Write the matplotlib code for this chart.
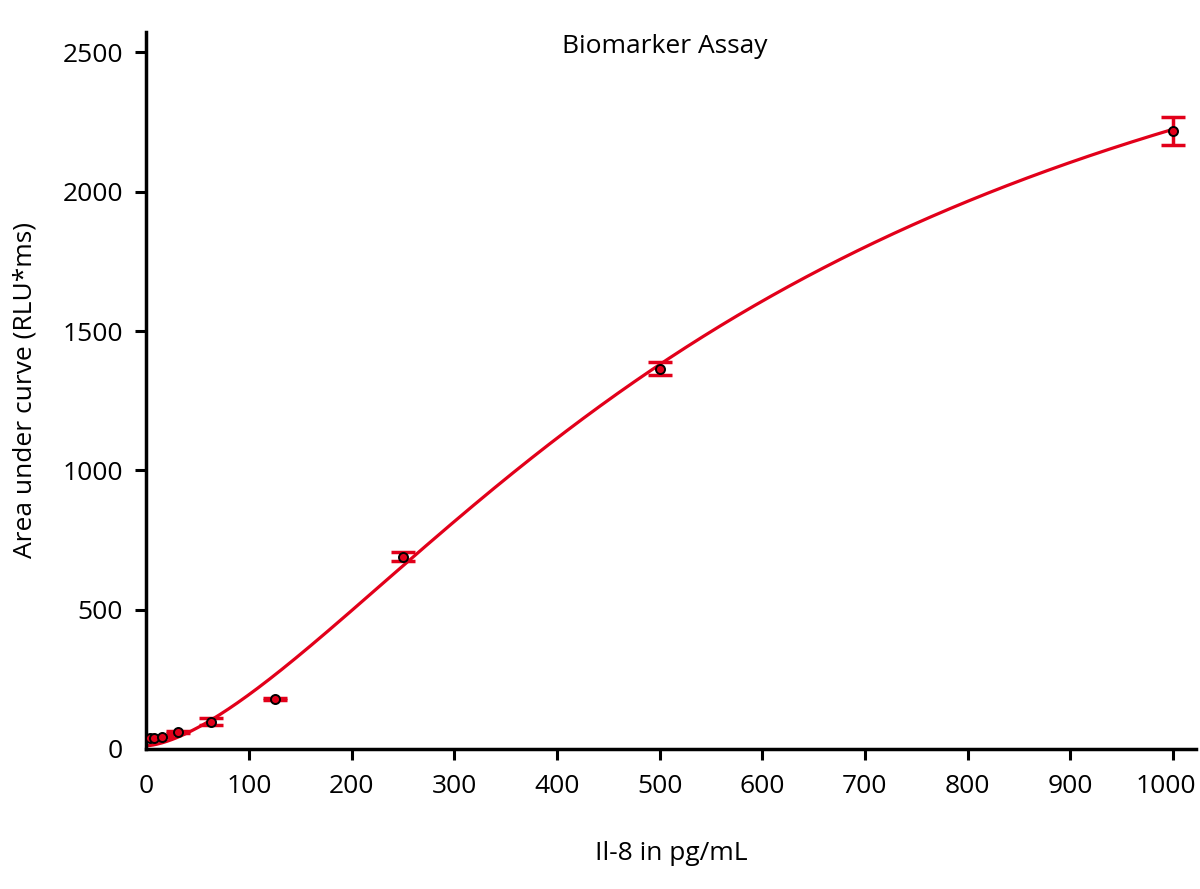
import numpy as np
import matplotlib.pyplot as plt
import matplotlib.transforms as mtransforms

plt.rcParams["font.family"] = ["Open Sans", "DejaVu Sans"]

# IL-8 standards (pg/mL) and measured area under curve (mean, SD)
conc = [3.9, 7.8, 15.6, 31.25, 62.5, 125, 250, 500, 1000]
auc_mean = [38, 38, 44, 60, 98, 179, 690, 1365, 2218]
auc_sd = [2, 2, 2, 3, 12, 3, 17, 23, 51]

# 4PL fit shown as the red curve: bottom, top, EC50, hill slope
fit_bottom = 11.5
fit_top = 3265
fit_ec50 = 615
fit_hill = 1.55

red = "#E2001A"

x_fit = np.linspace(0, max(conc), 600)
y_fit = fit_top + (fit_bottom - fit_top) / (1 + (x_fit / fit_ec50) ** fit_hill)

fig = plt.figure(figsize=(12, 8.89), dpi=100)
ax = fig.add_axes([0.122, 0.1575, 0.875, 0.8065])

ax.plot(x_fit, y_fit, color=red, lw=2.3, zorder=2)
ax.errorbar(conc, auc_mean, yerr=auc_sd, fmt="none", ecolor=red,
            elinewidth=2.5, capsize=8.5, capthick=2.5, zorder=3)
ax.plot(conc, auc_mean, "o", color=red, markeredgecolor="black",
        markersize=6.5, markeredgewidth=1.4, zorder=4, clip_on=False)

ax.set_xlim(0, 1023)
ax.set_ylim(0, 2573)
ax.set_xticks(range(0, 1001, 100))
ax.set_yticks(range(0, 2501, 500))
ax.tick_params(labelsize=19, width=2.2, length=8, direction="out")
ax.tick_params(axis="x", pad=10)
ax.tick_params(axis="y", pad=9)
ax.xaxis.get_major_ticks()[0].tick1line.set_visible(False)
ax.yaxis.get_major_ticks()[0].tick1line.set_visible(False)

# nudge the last x label left so it stays inside the figure
last = ax.get_xticklabels()[-1]
last.set_transform(last.get_transform() +
                   mtransforms.ScaledTranslation(-7 / 100, 0, fig.dpi_scale_trans))

for s in ["top", "right"]:
    ax.spines[s].set_visible(False)
for s in ["left", "bottom"]:
    ax.spines[s].set_linewidth(2.5)

ax.set_xlabel("Il-8 in pg/mL", fontsize=19, labelpad=30)
ax.set_ylabel("Area under curve (RLU*ms)", fontsize=19, labelpad=18)
ax.text(0.494, 0.98, "Biomarker Assay", transform=ax.transAxes,
        ha="center", va="center", fontsize=19)

fig.savefig("out.png", dpi=100)
